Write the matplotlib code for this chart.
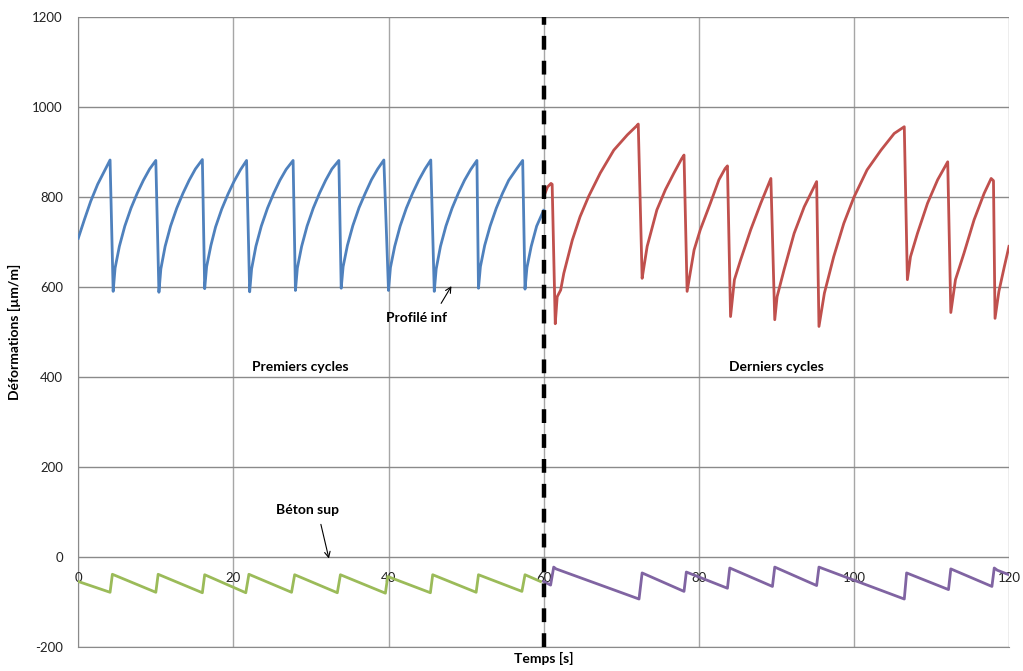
import matplotlib
matplotlib.use("Agg")
import matplotlib.pyplot as plt

plt.rcParams['font.family'] = ['Lato', 'DejaVu Sans']

# ---- data ----
blue_t = [0, 0.8, 1.6, 2.5, 3.3, 4.1,
          4.5, 4.75, 5.3, 6.0, 6.8, 7.6, 8.4, 9.2, 10.0,
          10.4, 10.65, 11.2, 11.9, 12.7, 13.5, 14.3, 15.1, 16.0,
          16.3, 16.55, 17.1, 17.7, 18.5, 19.3, 20.1, 20.9, 21.7,
          22.1, 22.35, 22.9, 23.6, 24.4, 25.2, 26.0, 26.8, 27.7,
          28.0, 28.25, 28.8, 29.5, 30.3, 31.1, 31.9, 32.7, 33.6,
          33.9, 34.15, 34.7, 35.4, 36.2, 37.0, 37.8, 38.6, 39.4,
          40.0, 40.25, 40.8, 41.5, 42.3, 43.1, 43.9, 44.7, 45.45,
          45.9, 46.15, 46.7, 47.4, 48.2, 49.0, 49.8, 50.6, 51.4,
          51.6, 51.85, 52.4, 53.1, 53.9, 54.7, 55.5, 56.5, 57.3,
          57.6, 57.85, 58.4, 59.1, 60.0]
blue_v = [708, 750, 790, 828, 855, 882,
          590, 642, 690, 735, 775, 808, 837, 862, 881,
          588, 640, 690, 735, 775, 808, 837, 862, 883,
          596, 645, 692, 733, 773, 806, 835, 860, 881,
          589, 640, 690, 735, 775, 808, 837, 861, 881,
          592, 642, 690, 735, 775, 808, 837, 862, 881,
          597, 645, 692, 736, 776, 808, 838, 862, 882,
          592, 643, 690, 735, 775, 808, 837, 862, 882,
          590, 640, 690, 735, 775, 808, 837, 861, 881,
          597, 645, 692, 735, 775, 808, 837, 862, 881,
          595, 643, 690, 735, 770]

red_t = [60.0, 60.5, 60.95, 61.1, 61.5, 61.75, 62.2, 62.6, 63.7, 64.7, 65.8, 67.3,
         69.05, 70.8, 72.0, 72.2, 72.7, 72.8, 73.35, 73.8, 74.6, 75.7, 76.8, 77.8,
         78.1, 78.5, 79.4, 80.2, 81.5, 82.6, 83.4, 83.7, 84.1, 84.6, 85.4, 86.7,
         88.0, 89.3, 89.8, 90.1, 91.0, 92.3, 93.6, 95.2, 95.5, 96.2, 97.4, 98.7,
         100.0, 101.7, 103.5, 105.2, 106.5, 106.9, 107.3, 108.2, 109.5, 110.8,
         112.1, 112.5, 113.1, 114.2, 115.5, 116.8, 117.7, 118.0, 118.2, 118.7,
         119.4, 120.0]
red_v = [800, 822, 830, 828, 518, 578, 593, 630, 704, 756, 801, 853,
         904, 938, 958, 962, 619, 630, 690, 719, 771, 816, 853, 885,
         893, 590, 682, 727, 786, 838, 863, 869, 534, 616, 660, 727,
         786, 841, 527, 578, 638, 719, 778, 834, 512, 586, 667, 741,
         799, 860, 904, 941, 956, 616, 667, 719, 786, 838,
         878, 543, 616, 675, 749, 808, 841, 836, 530, 590,
         645, 690]

green_t = [0, 4.1, 4.4, 10.0, 10.3, 16.0, 16.3, 21.6, 22.0, 27.5, 27.9,
           33.4, 33.8, 39.6, 39.9, 45.4, 45.7, 51.3, 51.6, 57.2, 57.6, 59.6]
green_v = [-55, -79, -39, -79, -39, -80, -40, -80, -39, -79, -40,
           -80, -40, -81, -44, -80, -40, -79, -40, -77, -40, -55]

purple_t = [60.0, 60.9, 61.3, 61.6, 72.3, 72.7, 78.1, 78.4, 83.7, 84.0,
            89.5, 89.8, 95.2, 95.5, 106.5, 106.8, 112.2, 112.5, 117.8, 118.1,
            118.5, 120.0]
purple_v = [-55, -63, -23, -27, -94, -36, -77, -34, -70, -25,
            -66, -23, -64, -23, -94, -36, -73, -27, -66, -25,
            -30, -40]

x_ticks = [0, 20, 40, 60, 80, 100, 120]
y_ticks = [-200, 0, 200, 400, 600, 800, 1000, 1200]

# ---- figure ----
fig = plt.figure(figsize=(10.23, 6.71), dpi=100)
ax = fig.add_axes([0.0765, 0.0362, 0.9098, 0.9385])

ax.set_xlim(0, 120)
ax.set_ylim(-200, 1200)

for x in x_ticks:
    ax.axvline(x, color='#a6a6a6', lw=1.0, zorder=0)
for y in y_ticks:
    ax.axhline(y, color='#8a8a8a', lw=1.0, zorder=0)

for s in ax.spines.values():
    s.set_visible(False)
ax.spines['left'].set_visible(True)
ax.spines['left'].set_color('#8a8a8a')
ax.spines['bottom'].set_visible(True)
ax.spines['bottom'].set_color('#8a8a8a')

ax.set_yticks(y_ticks)
ax.set_yticklabels([str(v) for v in y_ticks])
ax.tick_params(axis='y', length=0, pad=11, labelsize=9.5, labelcolor='#222222')
ax.set_xticks([])

for x in x_ticks:
    ax.annotate(str(x), xy=(x, 0), xytext=(0, -11), textcoords='offset points',
                ha='center', va='top', fontsize=9.5, color='#222222')

lw = 2.0
ax.plot(blue_t, blue_v, color='#4f81bd', lw=lw, zorder=3)
ax.plot(red_t, red_v, color='#c0504d', lw=lw, zorder=3)
ax.plot(green_t, green_v, color='#9bbb59', lw=lw, zorder=3)
ax.plot(purple_t, purple_v, color='#8064a2', lw=lw, zorder=3)

ax.axvline(60, color='black', lw=3.2, ls=(0, (3.1, 2.5)), zorder=4)

fs = 10
ax.text(28.6, 422, 'Premiers cycles', ha='center', va='center', fontsize=fs, fontweight='bold')
ax.text(90.0, 422, 'Derniers cycles', ha='center', va='center', fontsize=fs, fontweight='bold')

ax.annotate('', xy=(48.3, 607), xytext=(46.6, 558),
            arrowprops=dict(arrowstyle='->', color='black', lw=0.8))
ax.text(43.6, 531, 'Profilé inf', ha='center', va='center', fontsize=fs, fontweight='bold')

ax.annotate('', xy=(32.4, -10), xytext=(31.2, 78),
            arrowprops=dict(arrowstyle='->', color='black', lw=0.8))
ax.text(29.6, 104, 'Béton sup', ha='center', va='center', fontsize=fs, fontweight='bold')

ax.set_xlabel('Temps [s]', fontsize=fs, fontweight='bold', labelpad=4)
ax.set_ylabel('Déformations [µm/m]', fontsize=fs, fontweight='bold', labelpad=8)

fig.savefig('out.png', dpi=100)
